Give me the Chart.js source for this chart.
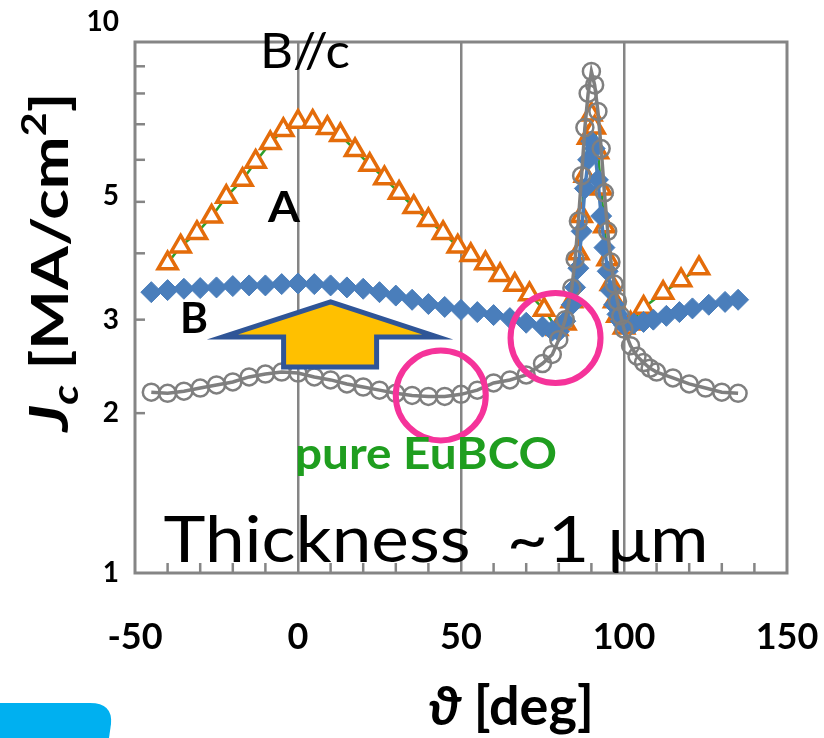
<!DOCTYPE html>
<html>
<head>
<meta charset="utf-8">
<script src="https://cdn.jsdelivr.net/npm/chart.js@4.4.1/dist/chart.umd.min.js"></script>
<style>
  html, body { margin: 0; padding: 0; background: #fff; }
  #wrap { position: relative; width: 824px; height: 738px; }
</style>
</head>
<body>
<div id="wrap"><canvas id="c" width="824" height="738"></canvas></div>
<script>
// pure EuBCO - grey open circles
const angPure = [-45, -40, -35, -30, -25, -20, -15, -10, -5, 0, 5, 10, 15, 20, 25, 30, 35, 40, 45, 50, 55, 60, 65, 70, 75, 78, 80, 82, 84, 85, 86, 87, 88, 89, 90, 91, 92, 93, 94, 95, 96, 97, 98, 99, 100, 102, 104, 106, 108, 110, 115, 120, 125, 130, 135];
const jcPure  = [2.19, 2.18, 2.20, 2.23, 2.26, 2.29, 2.34, 2.37, 2.39, 2.38, 2.34, 2.31, 2.27, 2.24, 2.21, 2.18, 2.16, 2.15, 2.15, 2.17, 2.21, 2.28, 2.31, 2.36, 2.48, 2.58, 2.75, 3.0, 3.44, 3.9, 4.6, 5.6, 6.9, 8.0, 8.8, 8.3, 7.4, 6.3, 5.2, 4.4, 3.85, 3.5, 3.25, 3.05, 2.88, 2.68, 2.56, 2.49, 2.43, 2.39, 2.33, 2.27, 2.23, 2.19, 2.18];

// sample B - blue diamonds
const angB = [-45, -40, -35, -30, -25, -20, -15, -10, -5, 0, 5, 10, 15, 20, 25, 30, 35, 40, 45, 50, 55, 60, 65, 70, 75, 78, 80, 82, 84, 85, 86, 87, 88, 89, 90, 91, 92, 93, 94, 95, 96, 97, 98, 99, 100, 103, 106, 109, 113, 117, 121, 126, 131, 135];
const jcB  = [3.38, 3.41, 3.43, 3.44, 3.45, 3.47, 3.48, 3.48, 3.50, 3.51, 3.50, 3.48, 3.45, 3.43, 3.38, 3.33, 3.27, 3.21, 3.17, 3.13, 3.10, 3.06, 3.02, 2.96, 2.91, 2.86, 2.85, 2.98, 3.2, 3.45, 3.75, 4.4, 5.3, 6.0, 6.5, 6.3, 5.5, 4.7, 4.1, 3.7, 3.4, 3.2, 3.07, 2.98, 2.93, 2.95, 2.97, 3.0, 3.05, 3.1, 3.15, 3.2, 3.24, 3.27];

// sample A - orange triangles
const angA = [-40, -36, -31, -26.5, -22, -17, -13, -8.5, -4.5, 0, 4.5, 9, 13, 17.5, 22, 26.5, 31, 35.5, 40, 44.5, 49, 53, 57.5, 62, 66.5, 71, 75.5, 79.5, 82, 84, 86, 87, 88, 89, 90, 91, 92, 93, 94, 95, 96, 97, 98, 100, 102, 106, 112, 117.5, 123];
const jcA  = [3.83, 4.12, 4.37, 4.69, 5.11, 5.50, 5.95, 6.45, 6.83, 7.08, 7.08, 6.89, 6.68, 6.26, 5.87, 5.54, 5.20, 4.89, 4.62, 4.37, 4.12, 3.97, 3.83, 3.64, 3.49, 3.35, 3.13, 2.88, 2.95, 3.25, 4.0, 4.7, 5.6, 6.6, 7.3, 6.9, 6.2, 5.3, 4.5, 3.9, 3.5, 3.25, 3.05, 2.9, 2.95, 3.16, 3.37, 3.56, 3.75];

const xTickLabels = [-50, 0, 50, 100, 150];
const xGridVals = [0, 50, 100];
const xMinorVals = [-40, -30, -20, -10, 10, 20, 30, 40, 60, 70, 80, 90, 110, 120, 130, 140];
const yTickLabels = [1, 2, 3, 5, 10];
const yMinorVals = [2, 3, 4, 5, 6, 7, 8, 9];

const FONT = "Lato, 'Noto Sans', 'DejaVu Sans', sans-serif";
const AXIS_GREY = '#858585';

function pts(xs, ys) {
  return xs.map((x, i) => ({ x: x, y: ys[i] }));
}

// text squeezed/stretched to a given width (the original used a narrow font)
function fitText(ctx, text, font, cx, base, width) {
  ctx.font = font;
  const w = ctx.measureText(text).width;
  ctx.save();
  ctx.translate(cx, base);
  ctx.scale(width / w, 1);
  ctx.textAlign = 'center';
  ctx.fillText(text, 0, 0);
  ctx.restore();
}

// frame, inner ticks, labels and the drawn notes
const decorations = {
  id: 'decorations',
  afterDatasetsDraw(chart) {
    const ctx = chart.ctx;
    const a = chart.chartArea;
    const xs = chart.scales.x;
    const ys = chart.scales.y;
    ctx.save();

    // inner ticks
    ctx.strokeStyle = AXIS_GREY;
    ctx.lineWidth = 2.5;
    xMinorVals.forEach(v => {
      const px = xs.getPixelForValue(v);
      ctx.beginPath(); ctx.moveTo(px, a.bottom); ctx.lineTo(px, a.bottom - 10); ctx.stroke();
    });
    yMinorVals.forEach(v => {
      const py = ys.getPixelForValue(v);
      ctx.beginPath(); ctx.moveTo(a.left, py); ctx.lineTo(a.left + 10, py); ctx.stroke();
    });

    // frame
    ctx.lineWidth = 3;
    ctx.strokeRect(a.left, a.top, a.right - a.left, a.bottom - a.top);

    // tick labels
    ctx.fillStyle = '#000';
    ctx.font = 'bold 28px ' + FONT;
    ctx.textAlign = 'right';
    ctx.textBaseline = 'middle';
    yTickLabels.forEach(v => {
      let py = ys.getPixelForValue(v);
      if (v === 10) py -= 20;
      if (v === 5) py -= 6;
      ctx.fillText(String(v), a.left - 16, py);
    });
    ctx.font = 'bold 36px ' + FONT;
    ctx.textAlign = 'center';
    ctx.textBaseline = 'alphabetic';
    xTickLabels.forEach(v => {
      ctx.fillText(String(v), xs.getPixelForValue(v), a.bottom + 76);
    });

    // pink circles
    ctx.strokeStyle = '#f5339a';
    ctx.lineWidth = 6;
    [[43.8, 2.16], [79, 2.77]].forEach(c => {
      ctx.beginPath();
      ctx.arc(xs.getPixelForValue(c[0]), ys.getPixelForValue(c[1]), 45, 0, Math.PI * 2);
      ctx.stroke();
    });

    // up arrow
    const tx = xs.getPixelForValue(10), ty = ys.getPixelForValue(3.24);
    ctx.beginPath();
    ctx.moveTo(tx, ty);
    ctx.lineTo(tx + 107, ty + 35);
    ctx.lineTo(tx + 46, ty + 35);
    ctx.lineTo(tx + 46, ty + 65);
    ctx.lineTo(tx - 47, ty + 65);
    ctx.lineTo(tx - 47, ty + 35);
    ctx.lineTo(tx - 108, ty + 35);
    ctx.closePath();
    ctx.fillStyle = '#ffc000';
    ctx.fill();
    ctx.strokeStyle = '#2f5597';
    ctx.lineWidth = 5;
    ctx.lineJoin = 'miter';
    ctx.stroke();

    // text notes
    ctx.fillStyle = '#000';
    fitText(ctx, 'B//c', '48px ' + FONT, 305, 68, 90);
    fitText(ctx, 'A', 'bold 42px ' + FONT, 284, 222, 32);
    fitText(ctx, 'B', 'bold 42px ' + FONT, 194, 333, 28);
    ctx.fillStyle = '#1f9e1f';
    fitText(ctx, 'pure EuBCO', 'bold 44px ' + FONT, 426, 469, 262);
    ctx.fillStyle = '#000';
    fitText(ctx, 'Thickness  ~1 \u03bcm', '64px ' + FONT, 436, 562, 545);

    // x axis title
    ctx.textAlign = 'left';
    const th = '\u03d1';
    const t2 = ' [deg]';
    ctx.font = 'bold italic 54px ' + FONT;
    const w1 = ctx.measureText(th).width;
    ctx.font = 'bold 54px ' + FONT;
    const w2 = ctx.measureText(t2).width;
    const x0 = 511 - (w1 + w2) / 2;
    ctx.font = 'bold italic 54px ' + FONT;
    ctx.fillText(th, x0, 725);
    ctx.font = 'bold 54px ' + FONT;
    ctx.fillText(t2, x0 + w1, 725);

    // y axis title, rotated
    const parts = [
      { t: 'J', f: 'bold italic 54px ', dy: 0 },
      { t: 'c', f: 'bold italic 36px ', dy: 10 },
      { t: ' [MA/cm', f: 'bold 52px ', dy: 0 },
      { t: '2', f: 'bold 34px ', dy: -22 },
      { t: ']', f: 'bold 52px ', dy: 0 }
    ];
    let total = 0;
    parts.forEach(p => { ctx.font = p.f + FONT; p.w = ctx.measureText(p.t).width; total += p.w; });
    ctx.translate(68, 262);
    ctx.rotate(-Math.PI / 2);
    ctx.scale(339 / total, 1);
    let cx = -total / 2;
    parts.forEach(p => {
      ctx.font = p.f + FONT;
      ctx.fillText(p.t, cx, p.dy);
      cx += p.w;
    });
    ctx.restore();

    // cyan tab in the lower-left corner
    ctx.save();
    ctx.fillStyle = '#00b0f0';
    ctx.beginPath();
    ctx.moveTo(0, 703);
    ctx.lineTo(90, 703);
    ctx.quadraticCurveTo(113, 703, 111, 724);
    ctx.lineTo(109, 738);
    ctx.lineTo(0, 738);
    ctx.closePath();
    ctx.fill();
    ctx.restore();
  }
};

const ctx = document.getElementById('c').getContext('2d');
new Chart(ctx, {
  type: 'scatter',
  data: {
    datasets: [
      {
        label: 'pure EuBCO',
        data: pts(angPure, jcPure),
        showLine: true,
        borderColor: '#7f7f7f',
        borderWidth: 3.5,
        pointStyle: 'circle',
        pointRadius: 8.5,
        pointBorderWidth: 2.5,
        pointBorderColor: '#7f7f7f',
        pointBackgroundColor: 'rgba(0,0,0,0)'
      },
      {
        label: 'B',
        data: pts(angB, jcB),
        showLine: true,
        borderColor: '#4a7ebb',
        borderWidth: 3.5,
        pointStyle: 'rectRot',
        pointRadius: 10.5,
        pointBorderWidth: 1,
        pointBorderColor: '#4a7ebb',
        pointBackgroundColor: '#4a7ebb'
      },
      {
        label: 'A',
        data: pts(angA, jcA),
        showLine: true,
        borderColor: '#2ca02c',
        borderWidth: 2.5,
        pointStyle: 'triangle',
        pointRadius: 11,
        pointBorderWidth: 3.5,
        pointBorderColor: '#e46c0a',
        pointBackgroundColor: '#ffffff'
      }
    ]
  },
  options: {
    responsive: false,
    animation: false,
    devicePixelRatio: 1,
    layout: { padding: { left: 0, top: 42, right: 37, bottom: 0 } },
    plugins: { legend: { display: false }, tooltip: { enabled: false } },
    scales: {
      x: {
        type: 'linear',
        min: -50,
        max: 150,
        afterFit: s => { s.height = 165; },
        border: { display: false },
        grid: {
          drawTicks: false,
          lineWidth: 2.5,
          color: c => xGridVals.includes(c.tick && c.tick.value) ? AXIS_GREY : 'rgba(0,0,0,0)'
        },
        ticks: { stepSize: 10, display: false }
      },
      y: {
        type: 'logarithmic',
        min: 1,
        max: 10,
        afterFit: s => { s.width = 135; },
        border: { display: false },
        grid: { display: false },
        ticks: { display: false }
      }
    }
  },
  plugins: [decorations]
});
</script>
</body>
</html>
